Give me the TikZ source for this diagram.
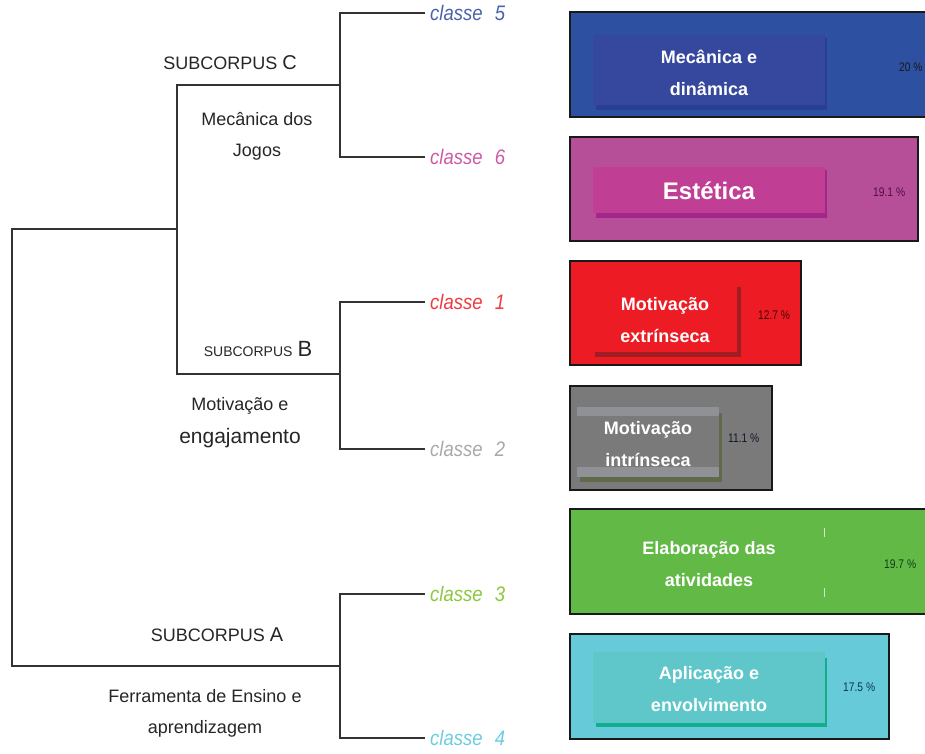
\documentclass[tikz,border=0pt]{standalone}
\usepackage{fontspec}
\setmainfont{Liberation Sans}
\definecolor{cl5}{HTML}{4A62AB}
\definecolor{cl6}{HTML}{CC5AA5}
\definecolor{cl1}{HTML}{EF3B3E}
\definecolor{cl2}{HTML}{A7A9AC}
\definecolor{cl3}{HTML}{8DC63F}
\definecolor{cl4}{HTML}{6CCDE0}
\definecolor{bar5}{RGB}{45,80,161}
\definecolor{in5}{RGB}{54,72,157}
\definecolor{sh5}{RGB}{40,63,149}
\definecolor{bar6}{RGB}{182,78,152}
\definecolor{in6}{RGB}{193,62,149}
\definecolor{sh6}{RGB}{163,39,139}
\definecolor{bar1}{RGB}{237,28,36}
\definecolor{sh1}{RGB}{160,29,35}
\definecolor{bar2}{RGB}{122,122,122}
\definecolor{in2}{RGB}{144,145,150}
\definecolor{sh2}{RGB}{95,106,75}
\definecolor{bar3}{RGB}{98,185,70}
\definecolor{bar4}{RGB}{103,202,217}
\definecolor{in4}{RGB}{95,198,201}
\definecolor{sh4}{RGB}{18,173,141}
\definecolor{pc6}{RGB}{80,15,60}
\definecolor{pc1}{RGB}{70,5,5}
\definecolor{pc2}{RGB}{20,20,45}
\definecolor{pc3}{RGB}{15,60,25}
\definecolor{pc4}{RGB}{5,60,80}
\tikzset{
  branch/.style={line width=1.3pt, draw=black!80},
  leaf/.style={anchor=west, inner xsep=5pt, inner ysep=0pt},
  title/.style={align=center, text=black!85, font=\fontsize{18}{31}\selectfont},
  barbox/.style={draw=black!90, line width=1.5pt},
  barlabel/.style={align=center, text=white, font=\bfseries\fontsize{18}{32}\selectfont},
  pct/.style={anchor=west, inner sep=0pt, font=\fontsize{12.5}{12}\selectfont}
}
\begin{document}
\begin{tikzpicture}[x=1pt,y=-1pt]
    \useasboundingbox (0,0) rectangle (925,753);
    \clip (0,0) rectangle (925,753);
    % classes
    \foreach \n/\y/\c in {5/13/cl5,6/157/cl6,1/302/cl1,2/449/cl2,3/594/cl3,4/738/cl4}{
      \node[leaf,text=\c] (c\n) at (425,\y)
        {\scalebox{0.88}[1]{\fontsize{21}{21}\selectfont\itshape classe\hspace{14pt}\n}};
    };
    \coordinate (jC) at (340,85);
    \coordinate (jB) at (340,374);
    \coordinate (jA) at (340,666);
    \coordinate (jCB) at (177,229);
    \coordinate (jR) at (12,447);
    \draw[branch] (c5.west) -| (jC) |- (c6.west);
    \draw[branch] (c1.west) -| (jB) |- (c2.west);
    \draw[branch] (c3.west) -| (jA) |- (c4.west);
    \draw[branch] (jC) -| (jCB);
    \draw[branch] (jB) -| (jCB);
    \draw[branch] (jCB) -| (jR) |- (jA);
    % subcorpus labels
    \node[title,anchor=base] (subC) at (230,69) {SUBCORPUS {\fontsize{20}{20}\selectfont C}};
    \node[title] (temaC) at (257,136) {Mecânica dos\\Jogos};
    \node[title,anchor=base] (subB) at (258,356)
      {{\fontsize{14}{14}\selectfont SUBCORPUS} {\fontsize{22}{22}\selectfont B}};
    \node[title,font=\fontsize{18}{33}\selectfont] (temaB) at (240,423)
      {Motivação e\\{\fontsize{21}{33}\selectfont engajamento}};
    \node[title,anchor=base] (subA) at (217,641) {SUBCORPUS {\fontsize{20}{20}\selectfont A}};
    \node[title] (temaA) at (205,713) {Ferramenta de Ensino e\\aprendizagem};
    % bars
    \filldraw[barbox,fill=bar5] (570,12) rectangle (935,117);
    \fill[sh5] (596,38) rectangle (827,110);
    \fill[in5] (593,35) rectangle (825,105);
    \filldraw[barbox,fill=bar6] (570,137) rectangle (918,241);
    \fill[sh6] (596,170) rectangle (827,218);
    \fill[in6] (593,167) rectangle (825,213);
    \filldraw[barbox,fill=bar1] (570,261) rectangle (801,365);
    \fill[sh1] (737,287) rectangle (741,357);
    \fill[sh1] (595,352) rectangle (741,357);
    \filldraw[barbox,fill=bar2] (570,386) rectangle (772,490);
    \fill[sh2] (580,413) rectangle (722,482);
    \fill[bar2] (577,410) rectangle (719,477);
    \fill[in2] (577,407) rectangle (719,416);
    \fill[in2] (577,467) rectangle (719,477);
    \filldraw[barbox,fill=bar3] (570,509) rectangle (935,614);
    \draw[white!70!bar3,line width=0.6pt] (824,528) -- (824,537) (824,588) -- (824,597);
    \filldraw[barbox,fill=bar4] (570,634) rectangle (889,739);
    \fill[sh4] (596,658) rectangle (827,727);
    \fill[in4] (593,652) rectangle (825,723);
    % bar texts
    \node[barlabel] (b5) at (709,73) {Mecânica e\\dinâmica};
    \node[barlabel,anchor=base,font=\bfseries\fontsize{24}{24}\selectfont] (b6) at (709,199) {Estética};
    \node[barlabel] (b1) at (665,320) {Motivação\\extrínseca};
    \node[barlabel] (b2) at (648,444) {Motivação\\intrínseca};
    \node[barlabel] (b3) at (709,564) {Elaboração das\\atividades};
    \node[barlabel] (b4) at (709,689) {Aplicação e\\envolvimento};
    \node[pct,text=black!90] (p5) at (899,67) {\scalebox{0.82}[1]{20 \%}};
    \node[pct,text=pc6] (p6) at (873,192) {\scalebox{0.82}[1]{19.1 \%}};
    \node[pct,text=pc1] (p1) at (758,315) {\scalebox{0.82}[1]{12.7 \%}};
    \node[pct,text=pc2] (p2) at (728,438) {\scalebox{0.82}[1]{11.1 \%}};
    \node[pct,text=pc3] (p3) at (884,564) {\scalebox{0.82}[1]{19.7 \%}};
    \node[pct,text=pc4] (p4) at (843,687) {\scalebox{0.82}[1]{17.5 \%}};
\end{tikzpicture}
\end{document}
